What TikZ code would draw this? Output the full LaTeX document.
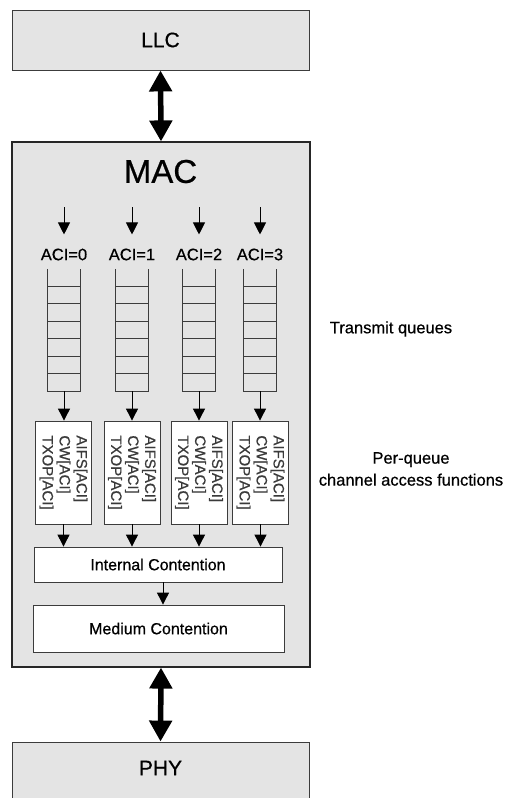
\documentclass[tikz,border=0pt]{standalone}
\usepackage{fontspec}
\setmainfont{Liberation Sans}[FakeBold=0.6]
\usetikzlibrary{arrows.meta,calc}
\definecolor{panel}{HTML}{E4E4E4}
\definecolor{edge}{HTML}{3C3C3C}
\definecolor{inktext}{HTML}{3A3A3A}
\begin{document}
\begin{tikzpicture}[x=1pt,y=-1pt,
  layer/.style={draw=edge, fill=panel, line width=0.9pt, minimum width=297pt,
    minimum height=60pt, inner sep=0pt, font=\fontsize{21}{24}\selectfont},
  macbox/.style={draw=black!85, fill=panel, line width=1.1pt, minimum width=298pt,
    minimum height=525pt, inner sep=0pt},
  whitebox/.style={draw=edge, fill=white, line width=0.8pt, inner sep=0pt,
    font=\fontsize{16}{19}\selectfont},
  fbox/.style={whitebox, minimum width=56pt, minimum height=103pt},
  ftext/.style={rotate=-90, align=left, inner sep=0pt, text=inktext,
    font=\fontsize{15}{17}\selectfont},
  qbox/.style={inner sep=0pt, minimum width=32pt, minimum height=122pt},
  qline/.style={draw=edge, line width=0.8pt},
  acilabel/.style={inner sep=0pt, font=\fontsize{16.5}{19}\selectfont},
  sidelabel/.style={inner sep=0pt, align=center, font=\fontsize{16.5}{22}\selectfont},
  smallarrow/.style={-{Triangle[length=12pt,width=12pt]}, line width=0.9pt, black},
  bigarrow/.style={{Triangle[length=21pt,width=22pt]}-{Triangle[length=21pt,width=22pt]},
    line width=5.5pt, black}
]
\useasboundingbox (0,0) rectangle (506,798);
\clip (0,0) rectangle (506,798);
\fill[white] (0,0) rectangle (506,798);

% protocol layers
\node[layer] (llc) at (160.5,40) {LLC};
\node[macbox] (mac) at (161,404.5) {};
\node[layer, minimum height=70pt, text depth=0pt] (phy) at (160.5,777) {};
\node[inner sep=0pt, font=\fontsize{21}{24}\selectfont] (phylabel) at (160.5,768) {PHY};
\node[inner sep=0pt, font=\fontsize{33}{38}\selectfont] (maclabel) at (160.5,171.5) {MAC};

% links between layers
\draw[bigarrow] (llc.south) -- (mac.north);
\draw[bigarrow] (mac.south) -- (phy.north);

% contention stages
\node[whitebox, minimum width=248pt, minimum height=35pt] (ic) at (158,564.5) {Internal Contention};
\node[whitebox, minimum width=251pt, minimum height=47pt] (mc) at (158.5,628.5) {Medium Contention};
\draw[smallarrow] ([xshift=5pt]ic.south) -- ([xshift=5pt]ic.south |- mc.north);

% one column per access category: queue and channel access function
\foreach \i/\x/\fx in {0/64/63.5, 1/132/132, 2/199/199, 3/260/260.5}{
  \coordinate (in\i) at (\x,207);
  \node[acilabel] (aci\i) at (\x,254.5) {ACI=\i};
  \draw[smallarrow, shorten >=14pt] (in\i) -- (aci\i.north);
  \node[qbox] (q\i) at (\x,330) {};
  \draw[qline] (q\i.north west) -- (q\i.south west) -- (q\i.south east) -- (q\i.north east);
  \foreach \k in {1,...,6}{
    \draw[qline] ($(q\i.south west)!\k/7!(q\i.north west)$) -- ($(q\i.south east)!\k/7!(q\i.north east)$);
  }
  \node[fbox] (f\i) at (\fx,472.5) {};
  \node[ftext] (ft\i) at (f\i.center) {AIFS[ACI]\\CW[ACI]\\TXOP[ACI]};
  \draw[smallarrow] (q\i.south) -- (q\i.south |- f\i.north);
  \draw[smallarrow] (f\i.south) -- (f\i.south |- ic.north);
}

% side captions
\node[sidelabel] (tq) at (391,329) {Transmit queues};
\node[sidelabel] (cf) at (411,469) {Per-queue\\channel access functions};
\end{tikzpicture}
\end{document}
